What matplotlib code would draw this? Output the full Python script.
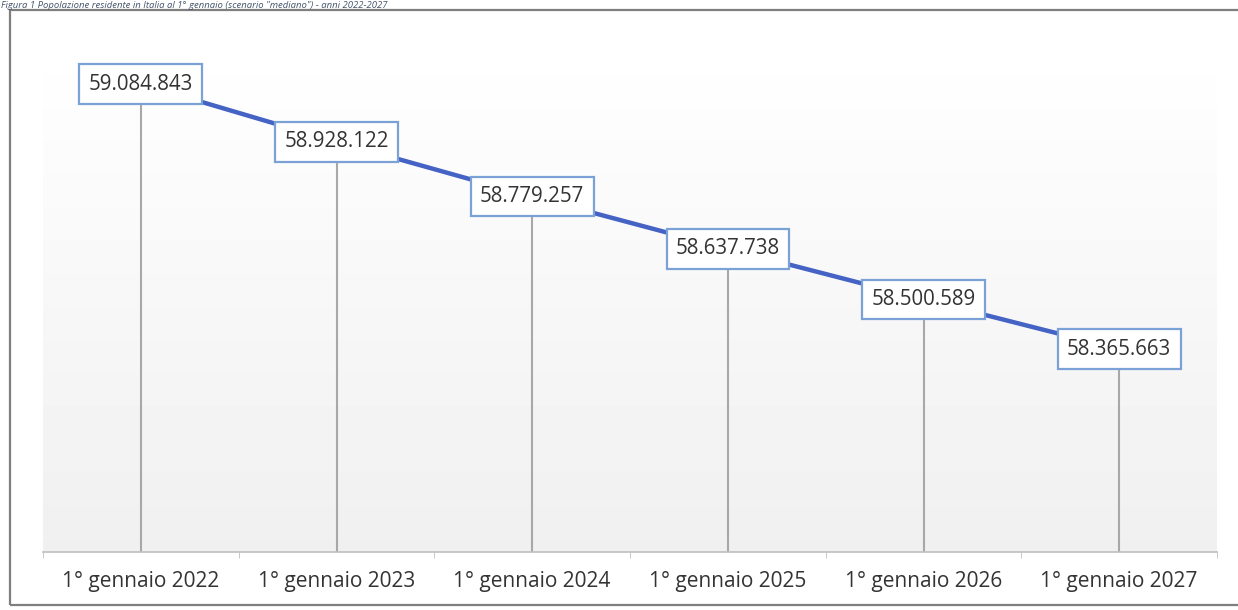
import numpy as np
import matplotlib.pyplot as plt
from matplotlib.patches import Rectangle

# popolazione residente al 1° gennaio, scenario mediano
anni = ["1° gennaio 2022", "1° gennaio 2023", "1° gennaio 2024",
        "1° gennaio 2025", "1° gennaio 2026", "1° gennaio 2027"]
popolazione = [59084843, 58928122, 58779257, 58637738, 58500589, 58365663]

titolo = 'Figura 1 Popolazione residente in Italia al 1° gennaio (scenario "mediano") - anni 2022-2027'

W, H = 1238, 610
plt.rcParams['font.family'] = ['Open Sans', 'DejaVu Sans']

fig = plt.figure(figsize=(W / 100, H / 100), dpi=100)
fig.patch.set_facecolor('white')

# cornice esterna del grafico
fig.patches.append(Rectangle((10 / W, 5 / H), 1.1, (600 - 5) / H,
                             transform=fig.transFigure, fill=False,
                             edgecolor='#7f7f7f', linewidth=1.6, zorder=0))

# titolo nella fascia sopra la cornice
fig.text(1 / W, 1 - 0.5 / H, titolo, ha='left', va='top', fontsize=6.8,
         style='italic', color='#44546a')

left, right, bottom, top = 43, 1217, 552, 40
ax = fig.add_axes([left / W, 1 - bottom / H, (right - left) / W, (bottom - top) / H])

x = np.arange(len(anni))
ymin, ymax = 57814763, 59204259
ax.set_xlim(-0.5, len(anni) - 0.5)
ax.set_ylim(ymin, ymax)

# sfondo sfumato dell'area del tracciato
grad = np.linspace(1.0, 0.94, 256).reshape(-1, 1)
ax.imshow(grad, extent=(-0.5, len(anni) - 0.5, ymin, ymax), aspect='auto',
          cmap='gray', vmin=0, vmax=1, zorder=0, origin='upper')

# linee di proiezione verso l'asse
ax.vlines(x, ymin, popolazione, color='#a8a8a8', linewidth=1.5, zorder=1)

ax.plot(x, popolazione, color='#4463c4', linewidth=3.2, solid_capstyle='round', zorder=2)

for xi, v in zip(x, popolazione):
    lab = f"{v:,}".replace(",", ".")
    ax.text(xi, v, lab, ha='center', va='center', fontsize=14.8, color='#333333', zorder=3,
            bbox=dict(boxstyle='square,pad=0.45', facecolor='white',
                      edgecolor='#7aa2d6', linewidth=1.6))

ax.set_xticks(x)
ax.set_xticklabels(anni, fontsize=15, color='#333333')
ax.set_xticks(np.arange(-0.5, len(anni) + 0.5, 1.0), minor=True)
ax.tick_params(axis='x', which='major', length=0, pad=14)
ax.tick_params(axis='x', which='minor', length=4, color='#bfbfbf')
ax.set_yticks([])

for s in ['top', 'left', 'right']:
    ax.spines[s].set_visible(False)
ax.spines['bottom'].set_color('#bfbfbf')
ax.spines['bottom'].set_linewidth(1.2)

fig.savefig('out.png', dpi=100)
